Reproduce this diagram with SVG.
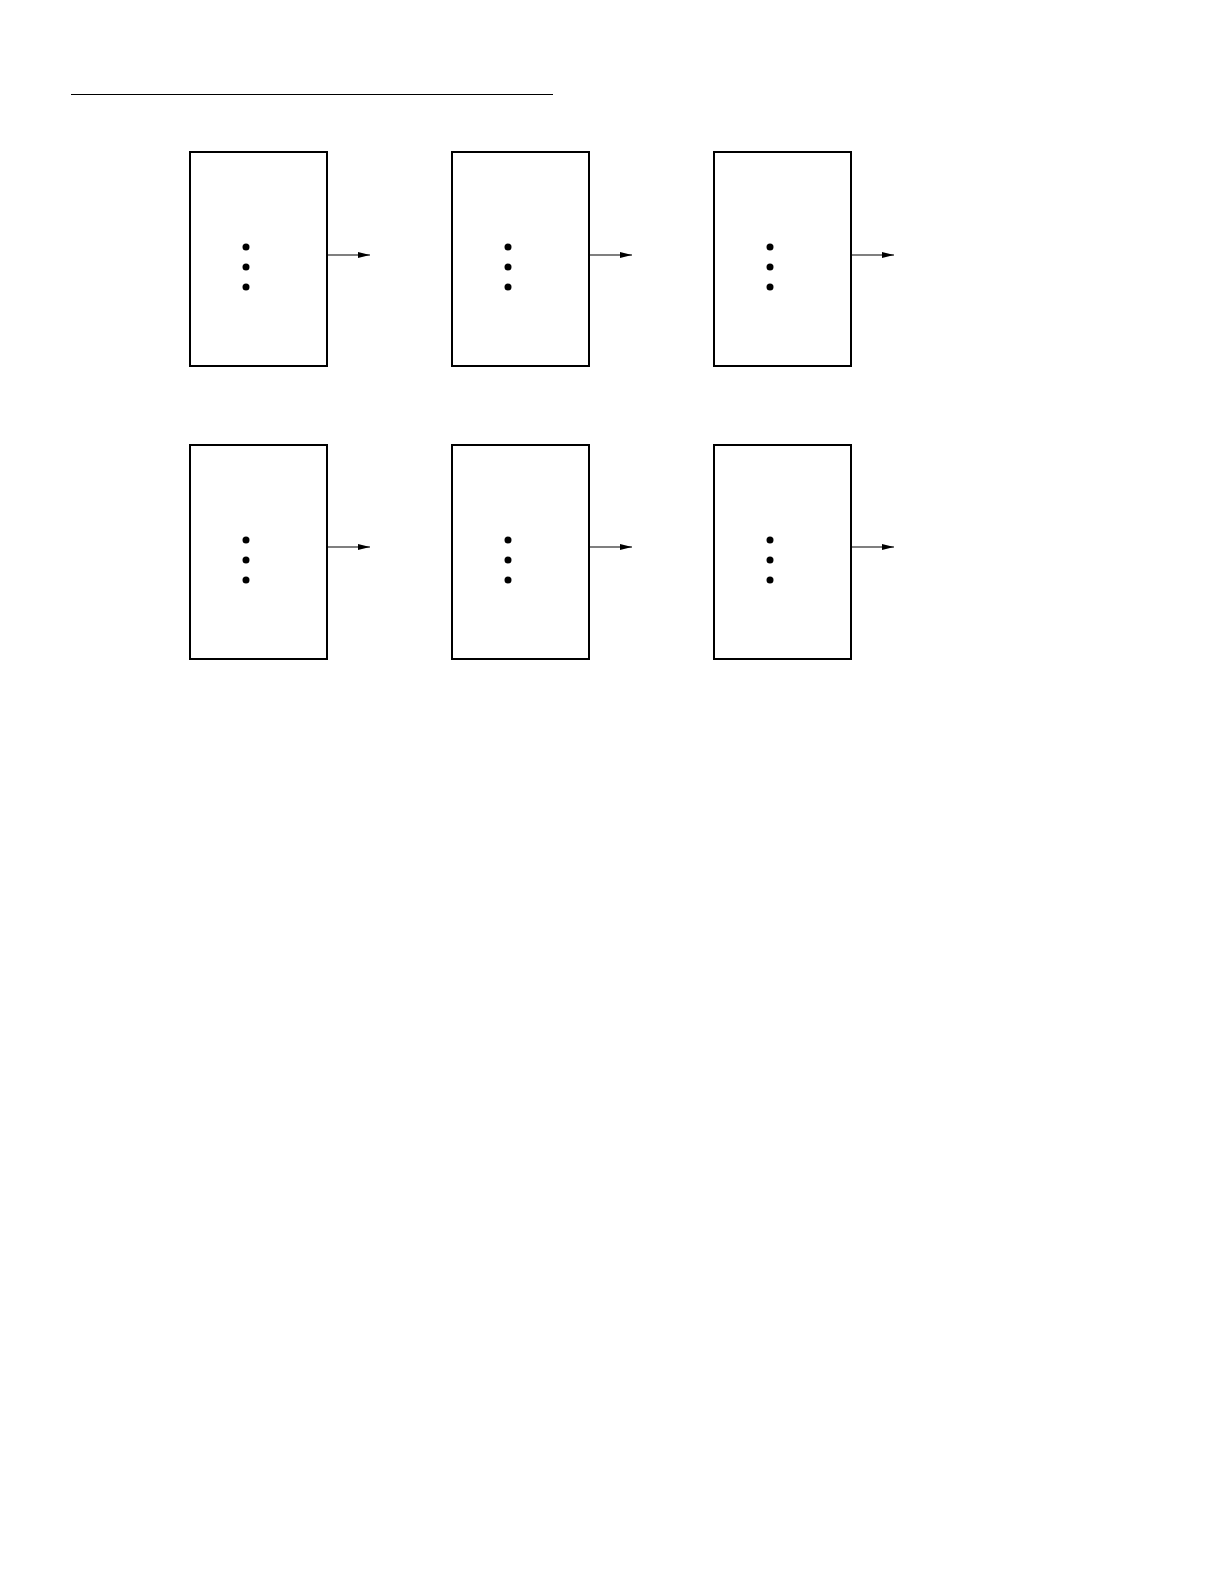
<svg xmlns="http://www.w3.org/2000/svg" width="1224" height="1584" viewBox="0 0 1224 1584">
<style>
.box{fill:#fff;stroke:#000;stroke-width:2}
.dot{fill:#000}
.conn{stroke:#000;stroke-width:1.2;fill:none}
</style>
<defs>
<marker id="arr" markerWidth="12" markerHeight="6" refX="12" refY="3" orient="auto" markerUnits="userSpaceOnUse">
<path d="M0,0 L12,3 L0,6 Z" fill="#000"/>
</marker>
<g id="blk">
<rect class="box" x="0" y="0" width="137" height="214"/>
<circle class="dot" cx="56" cy="95" r="3.5"/>
<circle class="dot" cx="56" cy="115" r="3.5"/>
<circle class="dot" cx="56" cy="135" r="3.5"/>
</g>
</defs>
<rect width="1224" height="1584" fill="#fff"/>
<line x1="71" y1="94.5" x2="553" y2="94.5" stroke="#000" stroke-width="1"/>
<g id="n1"><use href="#blk" x="190" y="152"/></g>
<g id="n2"><use href="#blk" x="452" y="152"/></g>
<g id="n3"><use href="#blk" x="714" y="152"/></g>
<g id="n4"><use href="#blk" x="190" y="445"/></g>
<g id="n5"><use href="#blk" x="452" y="445"/></g>
<g id="n6"><use href="#blk" x="714" y="445"/></g>
<g id="connectors">
<line class="conn" x1="327" y1="255" x2="370" y2="255" marker-end="url(#arr)"/>
<line class="conn" x1="589" y1="255" x2="632" y2="255" marker-end="url(#arr)"/>
<line class="conn" x1="851" y1="255" x2="894" y2="255" marker-end="url(#arr)"/>
<line class="conn" x1="327" y1="547" x2="370" y2="547" marker-end="url(#arr)"/>
<line class="conn" x1="589" y1="547" x2="632" y2="547" marker-end="url(#arr)"/>
<line class="conn" x1="851" y1="547" x2="894" y2="547" marker-end="url(#arr)"/>
</g>
</svg>
